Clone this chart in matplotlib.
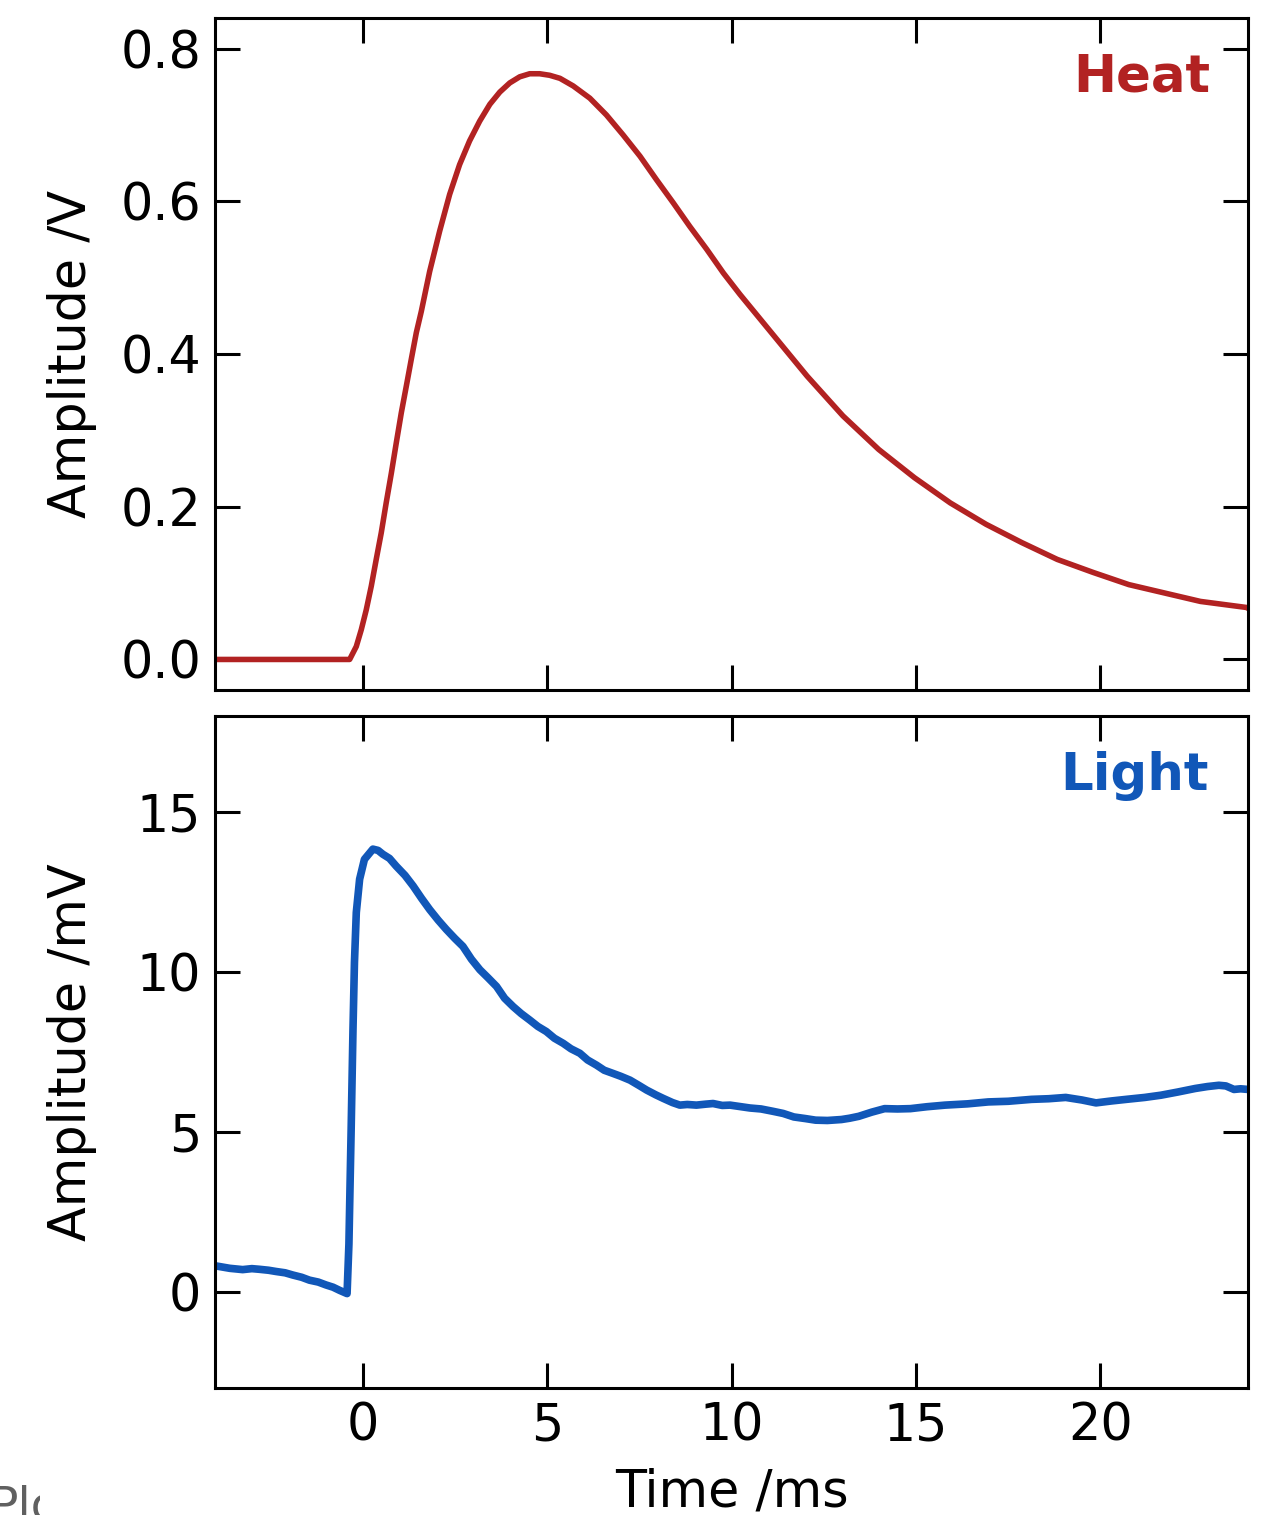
import matplotlib
matplotlib.use("Agg")
import matplotlib.pyplot as plt
from matplotlib.transforms import Bbox, TransformedBbox

# ---------------- data ----------------
heat_t = [-4.0, -0.35, -0.17, -0.035, 0.10, 0.236, 0.37, 0.507, 0.64, 0.78,
          0.915, 1.05, 1.186, 1.32, 1.457, 1.593, 1.818, 2.09, 2.36, 2.63,
          2.90, 3.175, 3.45, 3.72, 3.99, 4.26, 4.53, 4.80, 5.07, 5.35, 5.71,
          6.16, 6.61, 7.06, 7.52, 7.97, 8.42, 8.87, 9.33, 9.78, 10.23, 11.08,
          12.05, 13.02, 13.99, 14.96, 15.93, 16.90, 17.87, 18.83, 19.80, 20.77,
          21.74, 22.71, 23.97, 24.0]
heat_v = [0.0, 0.0, 0.017, 0.039, 0.065, 0.096, 0.131, 0.166, 0.205, 0.244,
          0.284, 0.323, 0.358, 0.393, 0.428, 0.456, 0.508, 0.561, 0.609, 0.648,
          0.679, 0.705, 0.727, 0.743, 0.755, 0.763, 0.767, 0.767, 0.765, 0.761, 0.751,
          0.735, 0.713, 0.687, 0.659, 0.628, 0.598, 0.567, 0.537, 0.506, 0.478, 0.428,
          0.371, 0.319, 0.275, 0.238, 0.205, 0.177, 0.153, 0.131, 0.114, 0.098,
          0.087, 0.076, 0.068, 0.067]

light_t = [-4.0, -3.8, -3.6, -3.25, -3.0, -2.8, -2.55, -2.34, -2.1, -1.89, -1.65,
           -1.44, -1.2, -0.99, -0.8, -0.62, -0.42,
           -0.37, -0.34, -0.31, -0.26, -0.22, -0.17, -0.08, 0.05, 0.28, 0.42, 0.55,
           0.73, 0.91, 1.15, 1.37, 1.6, 1.82, 2.05, 2.27, 2.5, 2.72, 2.95, 3.18, 3.4,
           3.63, 3.85, 4.08, 4.3, 4.53, 4.75, 4.98, 5.2, 5.44, 5.65,
           5.89, 6.1, 6.34, 6.55, 6.79, 7.0, 7.25, 7.5, 7.70, 7.95, 8.15, 8.4, 8.60,
           8.8, 9.05, 9.3, 9.50, 9.75, 9.96, 10.2, 10.50, 10.8,
           11.11, 11.4, 11.69, 12.0, 12.28, 12.6, 12.98, 13.2, 13.45, 13.8, 14.15,
           14.5, 14.85, 15.3, 15.79, 16.4, 16.96, 17.5, 18.13, 18.6,
           19.06, 19.5, 19.88, 20.3, 20.70, 21.2, 21.64, 22.1, 22.57, 22.9, 23.21,
           23.4, 23.62, 23.8, 24.0]
light_v = [0.82, 0.78, 0.74, 0.70, 0.73, 0.71, 0.68, 0.64, 0.60, 0.53, 0.46,
           0.37, 0.31, 0.22, 0.15, 0.05, -0.05,
           1.5, 3.3, 5.05, 8.19, 10.3, 11.86, 12.9, 13.52, 13.84, 13.80, 13.68,
           13.55, 13.31, 13.02, 12.69, 12.30, 11.95, 11.62, 11.33, 11.05, 10.8, 10.40,
           10.07, 9.82, 9.55, 9.18, 8.92, 8.70, 8.5, 8.30, 8.14, 7.93, 7.77, 7.60,
           7.46, 7.25, 7.09, 6.93, 6.83, 6.74, 6.62, 6.45, 6.31, 6.16, 6.05, 5.92,
           5.84, 5.86, 5.84, 5.87, 5.89, 5.83, 5.84, 5.80, 5.75, 5.72,
           5.65, 5.58, 5.47, 5.42, 5.37, 5.36, 5.39, 5.43, 5.49, 5.62, 5.73,
           5.72, 5.73, 5.79, 5.84, 5.88, 5.94, 5.96, 6.02, 6.04,
           6.08, 6.00, 5.91, 5.97, 6.02, 6.08, 6.15, 6.25, 6.36, 6.42, 6.46,
           6.44, 6.33, 6.35, 6.33]

x_ticks = [0, 5, 10, 15, 20]
heat_yticks = [0.0, 0.2, 0.4, 0.6, 0.8]
light_yticks = [0, 5, 10, 15]

# ---------------- style ----------------
RED = "#b22222"
BLUE = "#1157b8"
FS = 36.5

plt.rcParams["font.family"] = ["DejaVu Sans"]

fig = plt.figure(figsize=(12.75, 15.15), dpi=100)
ax1 = fig.add_axes([215/1275, 1-690/1515, 1033/1275, 672/1515])
ax2 = fig.add_axes([215/1275, 1-1388/1515, 1033/1275, 672/1515])

ax1.plot(heat_t, heat_v, color=RED, lw=4.0, solid_joinstyle="round")
ax2.plot(light_t, light_v, color=BLUE, lw=5.5, solid_joinstyle="round")

ax1.set_ylim(-0.04, 0.84)
ax2.set_ylim(-3, 18)
for ax in (ax1, ax2):
    ax.set_xlim(-4, 24)
    ax.set_xticks(x_ticks)
    for s in ax.spines.values():
        s.set_linewidth(2.2)
    ax.tick_params(direction="in", length=18, width=2.2, top=True, right=True,
                   labelsize=FS, pad=10)

ax1.set_yticks(heat_yticks)
ax1.set_yticklabels([f"{v:.1f}" for v in heat_yticks])
ax1.tick_params(labelbottom=False)
ax2.set_yticks(light_yticks)
ax2.set_xticklabels([str(v) for v in x_ticks])

ax1.set_ylabel("Amplitude /V", fontsize=FS)
ax2.set_ylabel("Amplitude /mV", fontsize=FS)
ax1.yaxis.set_label_coords(-0.114, 0.5)
ax2.yaxis.set_label_coords(-0.114, 0.5)
ax2.set_xlabel("Time /ms", fontsize=FS)
ax2.xaxis.set_label_coords(0.5, -0.118)

ax1.text(0.963, 0.890, "Heat", transform=ax1.transAxes, ha="right", va="baseline",
         color=RED, fontsize=37, fontweight="bold")
ax2.text(0.962, 0.890, "Light", transform=ax2.transAxes, ha="right", va="baseline",
         color=BLUE, fontsize=37, fontweight="bold")

# clipped grey text at bottom-left (cut off in the reference as well)
t = fig.text(-11/1275, -4.4/1515, "Plot", color="#606060", fontsize=34,
             ha="left", va="baseline")
t.set_clip_on(True)
t.set_clip_box(TransformedBbox(Bbox([[0, 0], [40/1275, 1]]), fig.transFigure))

fig.savefig("out.png", dpi=100)
